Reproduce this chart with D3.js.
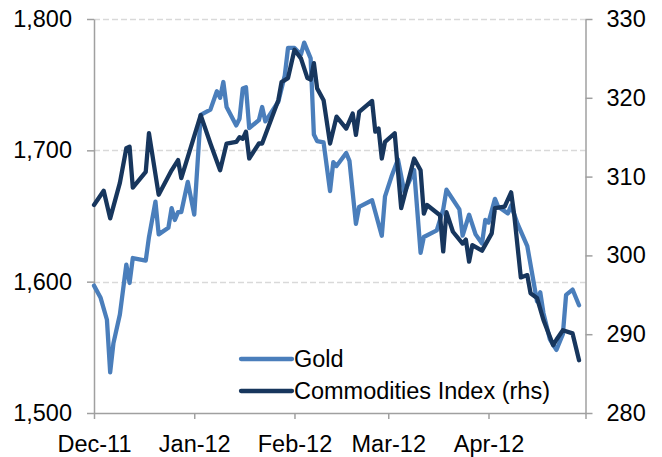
<!DOCTYPE html>
<html>
<head>
<meta charset="utf-8">
<script src="https://cdn.jsdelivr.net/npm/d3@7"></script>
<style>
  html, body { margin: 0; padding: 0; background: #fff; }
  svg { display: block; }
  text { font-family: "Liberation Sans", Arial, sans-serif; fill: #000; }
</style>
</head>
<body>
<svg id="chart" width="662" height="457"></svg>
<script>
// ---- Data ----
const goldDates = ["2011-12-01","2011-12-03","2011-12-05","2011-12-06","2011-12-07","2011-12-09","2011-12-11","2011-12-12","2011-12-13","2011-12-17","2011-12-18","2011-12-20","2011-12-21","2011-12-24","2011-12-25","2011-12-26","2011-12-27","2011-12-28","2011-12-30","2012-01-01","2012-01-03","2012-01-06","2012-01-08","2012-01-09","2012-01-10","2012-01-11","2012-01-14","2012-01-15","2012-01-16","2012-01-17","2012-01-18","2012-01-21","2012-01-22","2012-01-23","2012-01-27","2012-01-29","2012-01-30","2012-02-01","2012-02-03","2012-02-04","2012-02-06","2012-02-07","2012-02-08","2012-02-10","2012-02-12","2012-02-13","2012-02-14","2012-02-17","2012-02-18","2012-02-20","2012-02-21","2012-02-25","2012-02-28","2012-02-29","2012-03-02","2012-03-04","2012-03-06","2012-03-09","2012-03-11","2012-03-12","2012-03-16","2012-03-18","2012-03-19","2012-03-23","2012-03-24","2012-03-26","2012-03-28","2012-03-30","2012-03-31","2012-04-01","2012-04-03","2012-04-04","2012-04-07","2012-04-08","2012-04-10","2012-04-13","2012-04-15","2012-04-16","2012-04-17","2012-04-18","2012-04-20","2012-04-22","2012-04-24","2012-04-25","2012-04-27","2012-04-29"];
const goldValues = [1597,1588,1571,1531,1553,1575,1613,1599,1618,1616,1634,1661,1636,1641,1656,1647,1653,1653,1676,1651,1727,1731,1745,1740,1752,1733,1719,1724,1747,1748,1717,1723,1733,1722,1737,1757,1778,1778,1773,1782,1770,1712,1707,1706,1669,1691,1688,1698,1692,1644,1657,1662,1635,1665,1680,1693,1668,1685,1622,1634,1639,1655,1670,1655,1635,1651,1636,1629,1647,1645,1663,1657,1652,1658,1644,1627,1599,1585,1592,1576,1556,1548,1560,1590,1594,1582];

const commodDates = ["2011-12-01","2011-12-04","2011-12-06","2011-12-09","2011-12-11","2011-12-12","2011-12-13","2011-12-17","2011-12-18","2011-12-21","2011-12-25","2011-12-27","2011-12-28","2011-12-31","2012-01-03","2012-01-06","2012-01-09","2012-01-11","2012-01-14","2012-01-15","2012-01-16","2012-01-17","2012-01-18","2012-01-21","2012-01-22","2012-01-27","2012-01-28","2012-01-30","2012-02-01","2012-02-03","2012-02-05","2012-02-06","2012-02-07","2012-02-08","2012-02-10","2012-02-12","2012-02-14","2012-02-17","2012-02-19","2012-02-20","2012-02-21","2012-02-25","2012-02-26","2012-02-27","2012-02-28","2012-02-29","2012-03-03","2012-03-05","2012-03-09","2012-03-11","2012-03-12","2012-03-13","2012-03-17","2012-03-18","2012-03-19","2012-03-21","2012-03-24","2012-03-25","2012-03-26","2012-03-27","2012-03-30","2012-04-02","2012-04-03","2012-04-06","2012-04-08","2012-04-09","2012-04-11","2012-04-13","2012-04-14","2012-04-16","2012-04-18","2012-04-21","2012-04-22","2012-04-24","2012-04-27","2012-04-29"];
const commodValues = [306.4,308.2,304.7,309.2,313.6,313.8,308.6,310.6,315.5,307.7,310.8,312.1,309.8,313.8,317.8,314.2,310.8,314.2,314.4,315.0,314.8,315.7,312.3,314.2,314.2,319.7,322.0,322.5,326.1,325.0,322.5,322.3,324.4,321.2,319.7,314.2,317.6,316.1,318.0,315.3,318.2,319.6,315.7,316.1,312.3,314.4,315.5,306.0,312.3,310.8,305.3,306.4,305.1,300.5,305.5,303.0,301.5,302.0,299.2,301.3,300.6,302.8,306.0,306.2,308.0,305.0,297.2,297.5,295.2,294.6,291.8,288.6,289.3,290.5,290.1,286.7];

const monthTicks = ["2011-12-01","2012-01-01","2012-02-01","2012-03-01","2012-04-01","2012-05-01"];
const monthLabels = ["Dec-11","Jan-12","Feb-12","Mar-12","Apr-12",""];
const leftTicks = [1500,1600,1700,1800];
const rightTicks = [280,290,300,310,320,330];
const seriesNames = ["Gold","Commodities Index (rhs)"];
const seriesColors = ["#4A7EBB","#17365D"];

// ---- Chart ----
const parse = d3.timeParse("%Y-%m-%d");
const svg = d3.select("#chart");
const plot = {left: 94, right: 585.5, top: 19, bottom: 413};
const FONT = 23.5;
const axisColor = "#a0a0a0";

const x = d3.scaleTime()
  .domain([parse(monthTicks[0]), parse(monthTicks[monthTicks.length-1])])
  .range([plot.left, plot.right]);
const yL = d3.scaleLinear().domain([1500,1800]).range([plot.bottom, plot.top]);
const yR = d3.scaleLinear().domain([280,330]).range([plot.bottom, plot.top]);

// gridlines
svg.append("g").selectAll("line")
  .data(leftTicks.filter(v => v > 1500))
  .join("line")
  .attr("x1", plot.left).attr("x2", plot.right)
  .attr("y1", d => Math.round(yL(d)) + 0.5).attr("y2", d => Math.round(yL(d)) + 0.5)
  .attr("stroke", "#d9d9d9").attr("stroke-width", 1.5)
  .attr("stroke-dasharray", "6,3");

function styleAxis(g) {
  g.selectAll("path.domain").attr("stroke", axisColor).attr("stroke-width", 1.5);
  g.selectAll(".tick line").attr("stroke", axisColor).attr("stroke-width", 1.5);
  g.selectAll(".tick text").attr("font-size", FONT)
    .attr("font-family", '"Liberation Sans", Arial, sans-serif').attr("fill", "#000");
}

// left axis
const gL = svg.append("g").attr("transform", `translate(${plot.left},0)`)
  .call(d3.axisLeft(yL).tickValues(leftTicks).tickSize(7).tickSizeOuter(0)
    .tickPadding(15).tickFormat(d3.format(",")));
styleAxis(gL);

// right axis
const gR = svg.append("g").attr("transform", `translate(${plot.right},0)`)
  .call(d3.axisRight(yR).tickValues(rightTicks).tickSize(7).tickSizeOuter(0)
    .tickPadding(14).tickFormat(d3.format("d")));
styleAxis(gR);

// bottom axis
const gB = svg.append("g").attr("transform", `translate(0,${plot.bottom})`)
  .call(d3.axisBottom(x).tickValues(monthTicks.map(parse)).tickSize(6).tickSizeOuter(0)
    .tickPadding(16).tickFormat((d, i) => monthLabels[i]));
styleAxis(gB);

// lines
const goldData = goldDates.map((d, i) => ({date: parse(d), value: goldValues[i]}));
const commodData = commodDates.map((d, i) => ({date: parse(d), value: commodValues[i]}));

const lineL = d3.line().x(d => x(d.date)).y(d => yL(d.value));
const lineR = d3.line().x(d => x(d.date)).y(d => yR(d.value));

svg.append("path").datum(goldData).attr("d", lineL)
  .attr("fill", "none").attr("stroke", seriesColors[0]).attr("stroke-width", 4.3)
  .attr("stroke-linejoin", "round").attr("stroke-linecap", "round");
svg.append("path").datum(commodData).attr("d", lineR)
  .attr("fill", "none").attr("stroke", seriesColors[1]).attr("stroke-width", 4.3)
  .attr("stroke-linejoin", "round").attr("stroke-linecap", "round");

// legend
const legend = svg.append("g");
const legendY = [359, 391];
seriesNames.forEach((name, i) => {
  legend.append("line")
    .attr("x1", 241).attr("x2", 292)
    .attr("y1", legendY[i]).attr("y2", legendY[i])
    .attr("stroke", seriesColors[i]).attr("stroke-width", 4.3).attr("stroke-linecap", "round");
  legend.append("text")
    .attr("x", 294).attr("y", legendY[i]).attr("dy", "0.35em")
    .attr("font-size", FONT).text(name);
});
</script>
</body>
</html>
